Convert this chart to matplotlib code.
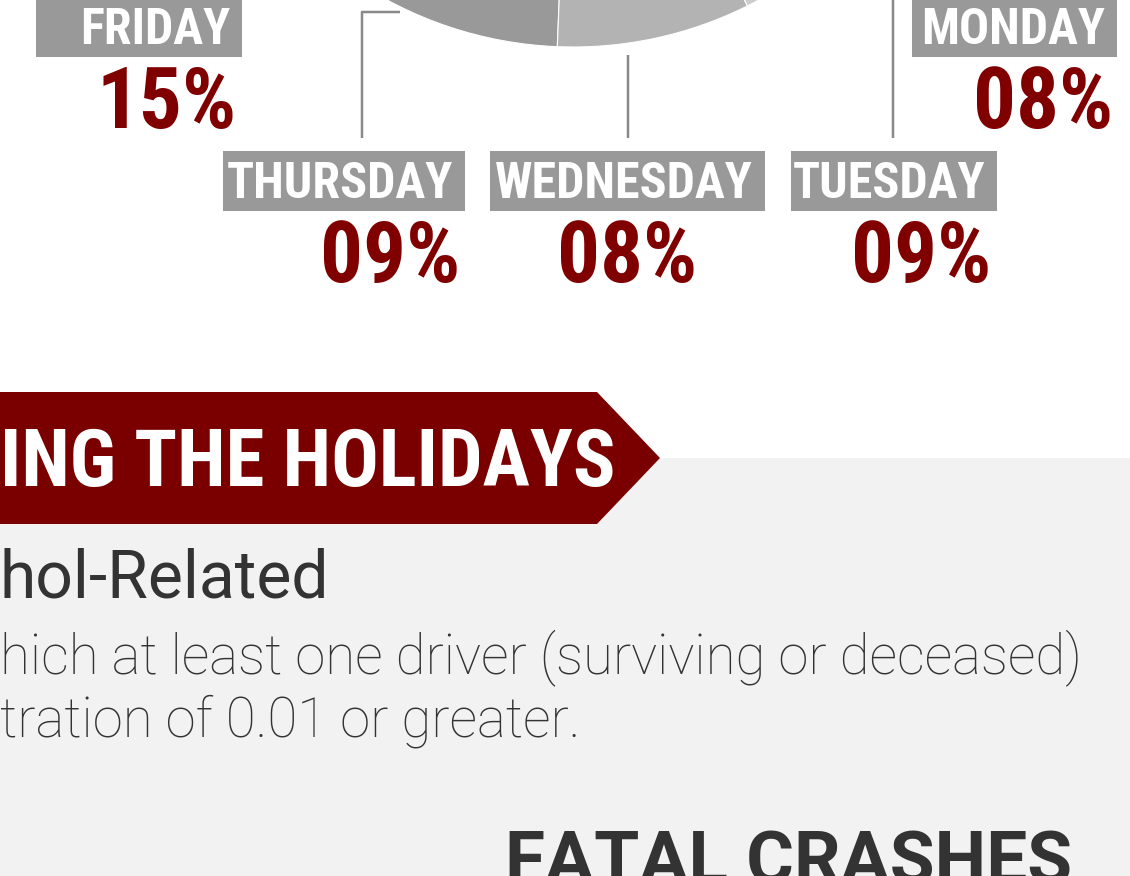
import matplotlib
matplotlib.use("Agg")
import matplotlib.pyplot as plt
from matplotlib.patches import Rectangle, Polygon

# ---------------- data ----------------
days = ["Friday", "Thursday", "Wednesday", "Tuesday", "Monday", "Sunday", "Saturday"]
shares = [15, 9, 8, 9, 8, 24, 27]          # percent of crashes by day
slice_colors = ["#808080", "#999999", "#b3b3b3", "#cccccc", "#dedede", "#8c8c8c", "#a6a6a6"]
label_days = ["FRIDAY", "THURSDAY", "WEDNESDAY", "TUESDAY", "MONDAY"]
label_vals = ["15%", "09%", "08%", "09%", "08%"]
banner_text = "ING THE HOLIDAYS"
heading_text = "hol-Related"
body_lines = ["hich at least one driver (surviving or deceased)",
              "tration of 0.01 or greater."]
section_title = "FATAL CRASHES"

# ---------------- style ----------------
W, H = 1130, 876
DPI = 100
PT = 72 / DPI            # px -> pt
RED = "#7a0000"
BOX = "#999999"
LINE = "#8a8a8a"
DARK = "#333333"
COND = ["Roboto Condensed", "DejaVu Sans"]

fig = plt.figure(figsize=(W / DPI, H / DPI), dpi=DPI)
fig.patch.set_facecolor("white")
ax = fig.add_axes([0, 0, 1, 1])

# ---------------- pie ----------------
ax.pie(shares, colors=slice_colors, startangle=178.7, counterclock=False,
       center=(573, -344), radius=391,
       wedgeprops=dict(edgecolor="white", linewidth=0.8))

# grey panel and banner
ax.add_patch(Rectangle((0, 458), W, H - 458, facecolor="#f2f2f2", edgecolor="none", zorder=0))
ax.add_patch(Polygon([(-10, 392), (597, 392), (660, 458), (597, 524), (-10, 524)],
                     closed=True, facecolor=RED, edgecolor="none", zorder=2))

# ---------------- labels ----------------
boxes = [(36, 242, -3, 57), (223, 465, 151, 211), (490, 765, 151, 211),
         (791, 997, 151, 211), (912, 1117, -3, 57)]
val_pos = [(237, 128, "right"), (460, 282, "right"), (627, 282, "center"),
           (991, 282, "right"), (1113, 128, "right")]
for (x0, x1, y0, y1), name, val, (vx, vy, ha) in zip(boxes, label_days, label_vals, val_pos):
    ax.add_patch(Rectangle((x0, y0), x1 - x0, y1 - y0, facecolor=BOX, edgecolor="none", zorder=3))
    ax.text(x1 - 12, y1 - 13, name, ha="right", va="baseline", color="white",
            fontsize=50 * PT, fontweight="bold", family=COND, zorder=4)
    ax.text(vx, vy, val, ha=ha, va="baseline", color="#800000",
            fontsize=85 * PT, fontweight="bold", family=COND, zorder=4)

# leader lines
lw = 2.5 * PT
ax.plot([400, 362, 362], [12, 12, 138], color=LINE, lw=lw, solid_capstyle="butt", zorder=3)
ax.plot([628, 628], [55, 138], color=LINE, lw=lw, solid_capstyle="butt", zorder=3)
ax.plot([893, 893], [-5, 138], color=LINE, lw=lw, solid_capstyle="butt", zorder=3)

# ---------------- banner & text ----------------
ax.text(0, 486, banner_text, ha="left", va="baseline", color="white",
        fontsize=79 * PT, fontweight="bold", family=COND, zorder=4)
ax.text(0, 597, heading_text, ha="left", va="baseline", color=DARK,
        fontsize=66 * PT, fontweight="normal", family=["Roboto", "DejaVu Sans"], zorder=4)
for txt, yb in zip(body_lines, [673, 737]):
    ax.text(0, yb, txt, ha="left", va="baseline", color=DARK,
            fontsize=54.5 * PT, fontweight="light", family=["Roboto", "DejaVu Sans"], zorder=4)
ax.text(505, 883, section_title, ha="left", va="baseline", color=DARK,
        fontsize=73 * PT, fontweight="bold", family=["Roboto", "DejaVu Sans"], zorder=4)

ax.set_xlim(0, W)
ax.set_ylim(H, 0)
ax.set_aspect("auto")
ax.axis("off")
fig.savefig("out.png", dpi=DPI, facecolor="white")
